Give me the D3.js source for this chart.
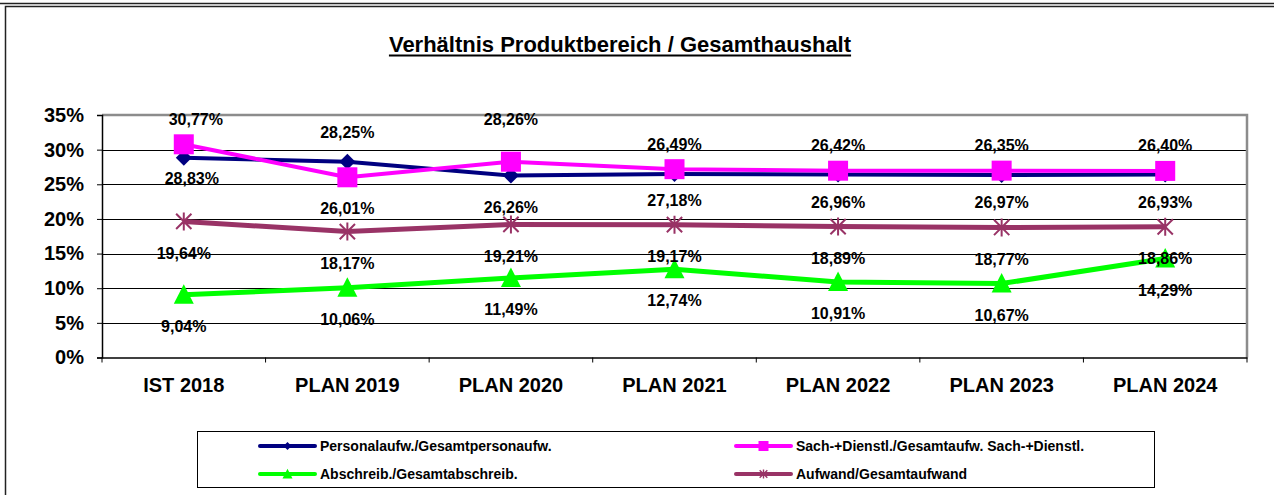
<!DOCTYPE html>
<html>
<head>
<meta charset="utf-8">
<script src="https://cdn.jsdelivr.net/npm/d3@7"></script>
<style>
  html, body { margin: 0; padding: 0; background: #fff; }
  svg { display: block; font-family: "Liberation Sans", Arial, sans-serif; }
</style>
</head>
<body>
<svg id="chart" width="1274" height="495"></svg>
<script>
// ---------- data ----------
const categories = ["IST 2018", "PLAN 2019", "PLAN 2020", "PLAN 2021", "PLAN 2022", "PLAN 2023", "PLAN 2024"];
const personal   = [28.83, 28.25, 26.26, 26.49, 26.42, 26.35, 26.40];
const sach       = [30.77, 26.01, 28.26, 27.18, 26.96, 26.97, 26.93];
const abschreib  = [9.04, 10.06, 11.49, 12.74, 10.91, 10.67, 14.29];
const aufwand    = [19.64, 18.17, 19.21, 19.17, 18.89, 18.77, 18.86];
const yTicks     = [0, 5, 10, 15, 20, 25, 30, 35];
const seriesNames = ["Personalaufw./Gesamtpersonaufw.", "Sach-+Dienstl./Gesamtaufw. Sach-+Dienstl.",
                     "Abschreib./Gesamtabschreib.", "Aufwand/Gesamtaufwand"];
const title = "Verhältnis Produktbereich / Gesamthaushalt";

// label placement per point ("a" above, "b" below)
const labelPos = {
  personal:  ["b", "a", "b", "a", "a", "a", "a"],
  sach:      ["a", "b", "a", "b", "b", "b", "b"],
  abschreib: ["b", "b", "b", "b", "b", "b", "b"],
  aufwand:   ["b", "b", "b", "b", "b", "b", "b"]
};

// ---------- styles ----------
const series = [
  { key: "personal",  name: seriesNames[0], values: personal,  color: "#000080", width: 4, marker: "diamond" },
  { key: "sach",      name: seriesNames[1], values: sach,      color: "#FF00FF", width: 4, marker: "square" },
  { key: "abschreib", name: seriesNames[2], values: abschreib, color: "#00FF00", width: 5, marker: "triangle" },
  { key: "aufwand",   name: seriesNames[3], values: aufwand,   color: "#993366", width: 5, marker: "star" }
];

const svg = d3.select("#chart");
const FONT = '"Liberation Sans", Arial, sans-serif';

// outer frame
svg.append("line").attr("x1", 0).attr("x2", 1274).attr("y1", 3.5).attr("y2", 3.5)
  .attr("stroke", "#222").attr("stroke-width", 1.5);
svg.append("rect").attr("x", 5.5).attr("y", 6.5).attr("width", 1300).attr("height", 600)
  .attr("fill", "none").attr("stroke", "#222").attr("stroke-width", 1.5);

const plot = { left: 102, right: 1247, top: 115, bottom: 357.5 };

const x = d3.scaleBand().domain(categories).range([plot.left, plot.right]).paddingInner(0).paddingOuter(0);
const y = d3.scaleLinear().domain([0, 35]).range([plot.bottom, plot.top]);
const cx = c => x(c) + x.bandwidth() / 2;

// title
const t = svg.append("text").attr("x", 620).attr("y", 52).attr("text-anchor", "middle")
  .attr("font-size", 22).attr("font-weight", "bold").attr("fill", "#000").text(title);
const tl = t.node().getComputedTextLength();
svg.append("line").attr("x1", 620 - tl / 2).attr("x2", 620 + tl / 2).attr("y1", 55.5).attr("y2", 55.5)
  .attr("stroke", "#000").attr("stroke-width", 2);

// gridlines
svg.append("g").selectAll("line").data(yTicks.filter(v => v > 0 && v < 35)).join("line")
  .attr("x1", plot.left).attr("x2", plot.right)
  .attr("y1", d => Math.round(y(d)) + 0.5).attr("y2", d => Math.round(y(d)) + 0.5)
  .attr("stroke", "#000").attr("stroke-width", 1);

// plot border top/right (gray)
svg.append("path")
  .attr("d", `M${plot.left},${y(35)}H${plot.right}V${plot.bottom}`)
  .attr("fill", "none").attr("stroke", "#8c8c8c").attr("stroke-width", 2.5);

// y axis
const yAxis = d3.axisLeft(y).tickValues(yTicks).tickSize(5).tickPadding(13).tickFormat(d => d + "%");
const gy = svg.append("g").attr("transform", `translate(${plot.left},0)`).call(yAxis);
gy.select(".domain").attr("stroke", "#000").attr("stroke-width", 1.5);
gy.selectAll(".tick line").attr("stroke", "#000");
gy.selectAll(".tick text").attr("font-size", 20).attr("font-weight", "bold")
  .attr("font-family", FONT).attr("fill", "#000");

// x axis
const xAxis = d3.axisBottom(x).tickSize(0).tickPadding(20);
const gx = svg.append("g").attr("transform", `translate(0,${plot.bottom})`).call(xAxis);
gx.select(".domain").attr("stroke", "#000").attr("stroke-width", 1.5);
gx.selectAll(".tick text").attr("font-size", 20).attr("font-weight", "bold")
  .attr("font-family", FONT).attr("fill", "#000");
// boundary ticks
svg.append("g").selectAll("line").data(d3.range(categories.length + 1)).join("line")
  .attr("x1", i => plot.left + i * x.bandwidth()).attr("x2", i => plot.left + i * x.bandwidth())
  .attr("y1", plot.bottom).attr("y2", plot.bottom + 5)
  .attr("stroke", "#000").attr("stroke-width", 1);

// marker drawing
function drawMarker(g, type, color, px, py, scale) {
  const s = scale || 1;
  if (type === "diamond") {
    const r = 8 * s;
    g.append("path").attr("d", `M${px},${py - r}L${px + r},${py}L${px},${py + r}L${px - r},${py}Z`).attr("fill", color);
  } else if (type === "square") {
    const h = 10 * s;
    g.append("rect").attr("x", px - h).attr("y", py - h).attr("width", 2 * h).attr("height", 2 * h).attr("fill", color);
  } else if (type === "triangle") {
    const h = 10 * s;
    g.append("path").attr("d", `M${px},${py - h * 1.05}L${px + h},${py + h * 0.9}L${px - h},${py + h * 0.9}Z`).attr("fill", color);
  } else if (type === "star") {
    const r = 9 * s;
    const d = r * 0.85;
    g.append("path").attr("d", `M${px - d},${py - d}L${px + d},${py + d}M${px - d},${py + d}L${px + d},${py - d}M${px},${py - r}L${px},${py + r}`)
      .attr("stroke", color).attr("stroke-width", 2 * Math.max(s, 0.7)).attr("fill", "none");
  }
}

const line = d3.line().x((d, i) => cx(categories[i])).y(d => y(d));
const gSeries = svg.append("g");
series.forEach(s => {
  const g = gSeries.append("g");
  g.append("path").datum(s.values).attr("d", line).attr("fill", "none")
    .attr("stroke", s.color).attr("stroke-width", s.width).attr("stroke-linejoin", "round");
  s.values.forEach((v, i) => drawMarker(g, s.marker, s.color, cx(categories[i]), y(v)));
});

// data labels
const fmt = v => v.toFixed(2).replace(".", ",") + "%";
const gLabels = svg.append("g");
series.forEach(s => {
  s.values.forEach((v, i) => {
    let dy = labelPos[s.key][i] === "a" ? -29.5 : 31.5;
    let dx = 0;
    if (s.key === "sach" && i === 0) { dy = -25; dx = 12; }
    if (s.key === "personal" && i === 0) { dy = 21; dx = 8; }
    if (s.key === "sach" && i === 2) { dy = -42; }
    gLabels.append("text")
      .attr("x", cx(categories[i]) + dx).attr("y", y(v) + dy)
      .attr("dy", "0.35em").attr("text-anchor", "middle")
      .attr("font-size", 16).attr("font-weight", "bold").attr("fill", "#000")
      .text(fmt(v));
  });
});

// legend
const lg = svg.append("g");
lg.append("rect").attr("x", 197.5).attr("y", 431.5).attr("width", 957).attr("height", 56)
  .attr("fill", "#fff").attr("stroke", "#000").attr("stroke-width", 1);
const legendCols = [260, 736];
const legendRows = [446, 474];
series.forEach((s, i) => {
  const lx = legendCols[i % 2], ly = legendRows[Math.floor(i / 2)];
  lg.append("line").attr("x1", lx).attr("x2", lx + 55).attr("y1", ly).attr("y2", ly)
    .attr("stroke", s.color).attr("stroke-width", 4).attr("stroke-linecap", "round");
  drawMarker(lg, s.marker, s.color, lx + 27.5, ly, 0.5);
  lg.append("text").attr("x", lx + 60).attr("y", ly).attr("dy", "0.35em")
    .attr("font-size", 14).attr("font-weight", "bold").attr("fill", "#000").text(s.name);
});
</script>
</body>
</html>
